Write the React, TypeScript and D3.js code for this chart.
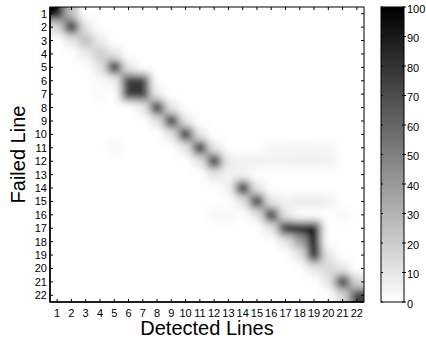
import React from "react";
import * as d3 from "d3";

const lines = d3.range(1, 23);
const colorTicks = [0, 10, 20, 30, 40, 50, 60, 70, 80, 90, 100];

// matrix[row][col], rows = Failed Line 1..22, cols = Detected Lines 1..22
const matrix: number[][] = [
  [100, 25, 0, 0, 0, 0, 0, 0, 0, 0, 0, 0, 0, 0, 0, 0, 0, 0, 0, 0, 0, 0],
  [15, 88, 10, 0, 0, 0, 0, 0, 0, 0, 0, 0, 0, 0, 0, 0, 0, 0, 0, 0, 0, 0],
  [0, 10, 25, 8, 0, 0, 0, 0, 0, 0, 0, 0, 0, 0, 0, 0, 0, 0, 0, 0, 0, 0],
  [0, 0, 8, 20, 10, 0, 0, 0, 0, 0, 0, 0, 0, 0, 0, 0, 0, 0, 0, 0, 0, 0],
  [0, 0, 0, 10, 95, 10, 0, 0, 0, 0, 0, 0, 0, 0, 0, 0, 0, 0, 0, 0, 0, 0],
  [0, 0, 0, 2, 5, 78, 78, 0, 0, 0, 0, 0, 0, 0, 0, 0, 0, 0, 0, 0, 0, 0],
  [0, 0, 0, 2, 0, 78, 78, 8, 0, 0, 0, 0, 0, 0, 0, 0, 0, 0, 0, 0, 0, 0],
  [0, 0, 0, 0, 0, 0, 8, 95, 10, 0, 0, 0, 0, 0, 0, 0, 0, 0, 0, 0, 0, 0],
  [0, 0, 0, 0, 0, 0, 0, 10, 90, 10, 0, 0, 0, 0, 0, 0, 0, 0, 0, 0, 0, 0],
  [0, 0, 0, 0, 0, 0, 0, 0, 10, 95, 10, 0, 0, 0, 0, 0, 0, 0, 0, 0, 0, 0],
  [0, 0, 0, 0, 3, 0, 0, 0, 0, 10, 95, 10, 0, 0, 0, 3, 3, 3, 3, 3, 0, 0],
  [0, 0, 0, 0, 0, 0, 0, 0, 0, 0, 10, 95, 8, 5, 6, 5, 5, 6, 6, 5, 0, 0],
  [0, 0, 0, 0, 0, 0, 0, 0, 0, 0, 0, 10, 5, 5, 0, 0, 0, 0, 0, 0, 0, 0],
  [0, 0, 0, 0, 0, 0, 0, 0, 0, 0, 0, 0, 5, 95, 10, 0, 0, 0, 0, 0, 0, 0],
  [0, 0, 0, 0, 0, 0, 0, 0, 0, 0, 0, 0, 0, 10, 95, 10, 5, 8, 8, 6, 0, 0],
  [0, 0, 0, 0, 0, 0, 0, 0, 0, 0, 0, 3, 3, 0, 10, 95, 10, 0, 0, 0, 3, 0],
  [0, 0, 0, 0, 0, 0, 0, 0, 0, 0, 0, 0, 0, 0, 0, 10, 98, 98, 98, 0, 0, 0],
  [0, 0, 0, 0, 0, 0, 0, 0, 0, 0, 0, 0, 0, 0, 0, 0, 10, 35, 98, 0, 0, 0],
  [0, 0, 0, 0, 0, 0, 0, 0, 0, 0, 0, 0, 0, 0, 0, 0, 0, 10, 98, 10, 0, 0],
  [0, 0, 0, 0, 0, 0, 0, 0, 0, 0, 0, 0, 0, 0, 0, 0, 0, 0, 10, 15, 10, 0],
  [0, 0, 0, 0, 0, 0, 0, 0, 0, 0, 0, 0, 0, 0, 0, 0, 0, 0, 0, 10, 85, 15],
  [0, 0, 0, 0, 0, 0, 0, 0, 0, 0, 0, 0, 0, 0, 0, 0, 0, 0, 0, 0, 15, 75],
];

const W = 426;
const H = 339;
const L = 50, R = 364, T = 7, B = 302;
const CB_L = 381, CB_R = 404;

export default function App() {
  const x = d3.scaleBand<number>().domain(lines).range([L, R]);
  const y = d3.scaleBand<number>().domain(lines).range([T, B]);
  const color = d3.scaleLinear<string>().domain([0, 100]).range(["#ffffff", "#000000"]);
  const cy = d3.scaleLinear().domain([0, 100]).range([B, T]);
  const pad = 14;
  const font = "'Liberation Sans', Arial, Helvetica, sans-serif";

  const cells: JSX.Element[] = [];
  matrix.forEach((row, ri) => {
    row.forEach((v, ci) => {
      const r = ri + 1, c = ci + 1;
      let x0 = x(c)!, x1 = x0 + x.bandwidth();
      let y0 = y(r)!, y1 = y0 + y.bandwidth();
      if (c === 1) x0 -= pad;
      if (c === 22) x1 += pad;
      if (r === 1) y0 -= pad;
      if (r === 22) y1 += pad;
      cells.push(
        <rect key={`${r}-${c}`} x={x0} y={y0} width={x1 - x0 + 0.5} height={y1 - y0 + 0.5} fill={color(v)} />
      );
    });
  });

  const tickLen = 3;

  return (
    <svg width={W} height={H} style={{ position: "absolute", left: 0, top: 0, background: "#fff" }} fontFamily={font}>
      <defs>
        <clipPath id="plotClip">
          <rect x={L} y={T} width={R - L} height={B - T} />
        </clipPath>
        <filter id="soft" filterUnits="userSpaceOnUse" x={L - 40} y={T - 40} width={R - L + 80} height={B - T + 80}>
          <feGaussianBlur stdDeviation="4" />
        </filter>
        <linearGradient id="cbGrad" x1="0" y1="1" x2="0" y2="0">
          <stop offset="0%" stopColor="#ffffff" />
          <stop offset="100%" stopColor="#000000" />
        </linearGradient>
      </defs>
      <rect x={0} y={0} width={W} height={H} fill="#fff" />
      <g clipPath="url(#plotClip)">
        <g filter="url(#soft)">{cells}</g>
      </g>
      {/* ticks */}
      <g stroke="#000" strokeWidth={1}>
        {lines.map((d) => {
          const cx = x(d)! + x.bandwidth() / 2;
          const cyy = y(d)! + y.bandwidth() / 2;
          return (
            <g key={d}>
              <line x1={cx} x2={cx} y1={T} y2={T + tickLen} />
              <line x1={cx} x2={cx} y1={B} y2={B - tickLen} />
              <line x1={L} x2={L + tickLen} y1={cyy} y2={cyy} />
              <line x1={R} x2={R - tickLen} y1={cyy} y2={cyy} />
            </g>
          );
        })}
      </g>
      <rect x={L} y={T} width={R - L} height={B - T} fill="none" stroke="#000" strokeWidth={1} />
      <line x1={L} x2={L} y1={T} y2={B + 0.5} stroke="#000" strokeWidth={1.6} />
      <line x1={L} x2={R} y1={B} y2={B} stroke="#000" strokeWidth={1.6} />
      {/* tick labels */}
      <g fontSize={11} fill="#000">
        {lines.map((d) => (
          <text key={`xl${d}`} x={x(d)! + x.bandwidth() / 2} y={316.5} textAnchor="middle">
            {d}
          </text>
        ))}
        {lines.map((d) => (
          <text key={`yl${d}`} x={47} y={y(d)! + y.bandwidth() / 2 + 4} textAnchor="end">
            {d}
          </text>
        ))}
      </g>
      <text x={(L + R) / 2} y={335} textAnchor="middle" fontSize={20}>
        Detected Lines
      </text>
      <text transform={`translate(25,${(T + B) / 2}) rotate(-90)`} textAnchor="middle" fontSize={20}>
        Failed Line
      </text>
      {/* colorbar */}
      <rect x={CB_L} y={T} width={CB_R - CB_L} height={B - T} fill="url(#cbGrad)" stroke="#000" strokeWidth={1} />
      <g fontSize={11} fill="#000">
        {colorTicks.map((t) => (
          <g key={`ct${t}`}>
            <line x1={CB_R} x2={CB_R + 2} y1={cy(t)} y2={cy(t)} stroke="#000" />
            <line x1={CB_L} x2={CB_L + 2} y1={cy(t)} y2={cy(t)} stroke="#000" />
            <line x1={CB_R - 2} x2={CB_R} y1={cy(t)} y2={cy(t)} stroke="#000" />
            <text x={CB_R + 3} y={cy(t) + 5.5}>
              {t}
            </text>
          </g>
        ))}
      </g>
    </svg>
  );
}
